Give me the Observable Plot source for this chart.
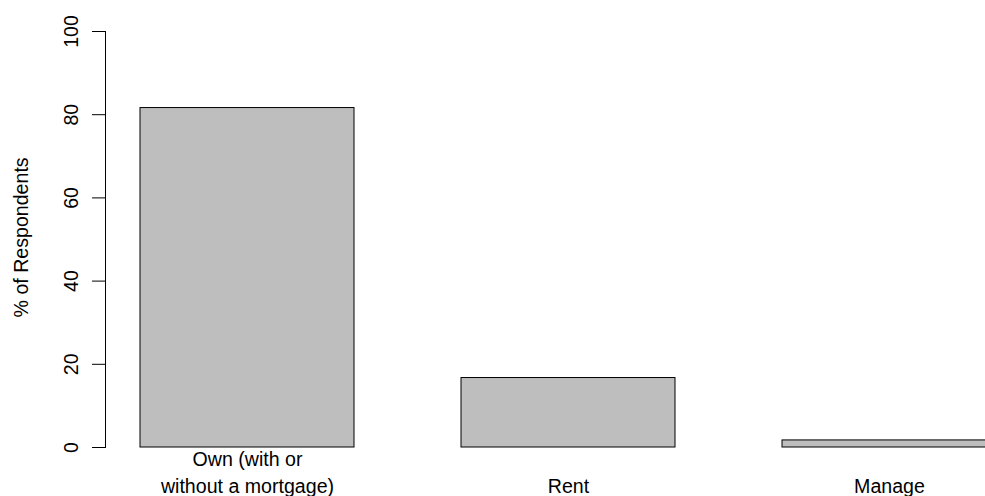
<!DOCTYPE html>
<html>
<head>
<meta charset="utf-8">
<script src="https://cdn.jsdelivr.net/npm/d3@7"></script>
<script src="https://cdn.jsdelivr.net/npm/@observablehq/plot@0.6"></script>
<style>
  html, body { margin: 0; padding: 0; background: #fff; overflow: hidden; }
  #chart svg { overflow: hidden; }
</style>
</head>
<body>
<div id="chart"></div>
<script>
const categories = ["Own (with or\nwithout a mortgage)", "Rent", "Manage"];
const percents = [81.6, 16.7, 1.7];
const yTicks = [0, 20, 40, 60, 80, 100];
const yLabel = "% of Respondents";

const data = categories.map((c, i) => ({category: c, value: percents[i]}));

const font = "'Liberation Sans', Arial, sans-serif";
const fs = 19.6;

const chart = Plot.plot({
  width: 985,
  height: 496,
  marginLeft: 105,
  marginRight: 0,
  marginTop: 31,
  marginBottom: 49,
  style: {fontFamily: font, fontSize: fs + "px", background: "#fff", color: "#000"},
  x: {domain: categories, range: [139, 996.33], paddingInner: 1/3, paddingOuter: 0, axis: null},
  y: {domain: [0, 100]},
  marks: [
    Plot.barY(data, {x: "category", y: "value", fill: "#bebebe", stroke: "#000", strokeWidth: 1}),
    Plot.frame({anchor: "left", stroke: "#000", strokeWidth: 1}),
    Plot.axisY({ticks: yTicks, tickSize: 13, tickFormat: () => "", label: null, stroke: "#000", strokeOpacity: 1}),
    Plot.text(yTicks, {y: d => d, text: d => String(d), frameAnchor: "left", dx: -28, rotate: -90, lineAnchor: "bottom", textAnchor: "middle", fontSize: fs, fill: "#000"}),
    Plot.text([yLabel], {y: 50.5, text: d => d, frameAnchor: "left", dx: -78, rotate: -90, lineAnchor: "bottom", textAnchor: "middle", fontSize: fs, fill: "#000"}),
    Plot.text(categories, {x: d => d, text: d => d, frameAnchor: "bottom", dy: 45, lineAnchor: "bottom", textAnchor: "middle", lineHeight: 1.36, fontSize: fs, fill: "#000"})
  ]
});
document.getElementById("chart").appendChild(chart);
</script>
</body>
</html>
